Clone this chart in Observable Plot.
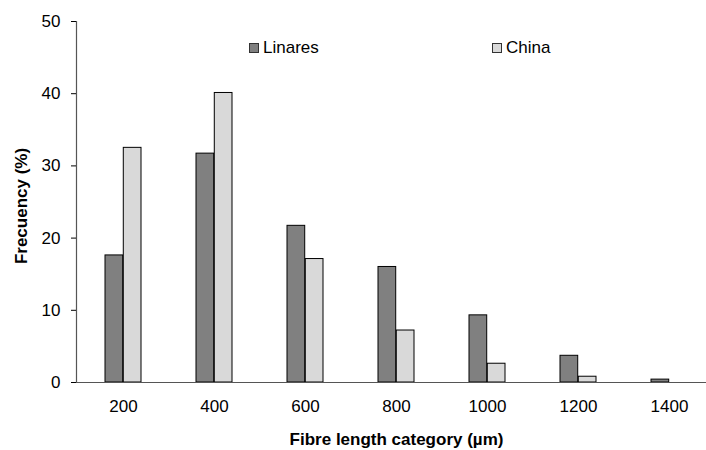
<!DOCTYPE html>
<html>
<head>
<meta charset="utf-8">
<script src="https://cdn.jsdelivr.net/npm/d3@7"></script>
<script src="https://cdn.jsdelivr.net/npm/@observablehq/plot@0.6"></script>
<style>
  html, body { margin: 0; padding: 0; background: white; overflow: hidden; }
  #wrap { position: relative; width: 706px; height: 450px; font-family: "Liberation Sans", Arial, sans-serif; }
  .legend { position: absolute; display: flex; align-items: center; font-size: 17px; color: #000; }
  .legend .sw { width: 8px; height: 8px; border: 1px solid #333; margin-right: 4px; }
</style>
</head>
<body>
<div id="wrap"></div>
<script>
// Data
const categories = ["200", "400", "600", "800", "1000", "1200", "1400"];
const linares = [17.6, 31.7, 21.7, 16.0, 9.3, 3.7, 0.4];
const china = [32.5, 40.1, 17.1, 7.2, 2.6, 0.8, 0];
const seriesNames = ["Linares", "China"];
const seriesColors = ["#808080", "#d9d9d9"];
const yTicks = [0, 10, 20, 30, 40, 50];

const rows = [];
categories.forEach((c, i) => {
  rows.push({cat: c, series: "Linares", value: linares[i]});
  rows.push({cat: c, series: "China", value: china[i]});
});

const W = 706, H = 450;
const mL = 76, mR = -10, mT = 21, mB = 68;
const padInner = 0.6;
const bw = (W - mL - mR) / categories.length * (1 - padInner);
const half = bw / 2;

const chart = Plot.plot({
  width: W,
  height: H,
  marginLeft: mL,
  marginRight: mR,
  marginTop: mT,
  marginBottom: mB,
  style: {fontFamily: "'Liberation Sans', Arial, sans-serif", fontSize: "17px", color: "#000", background: "white"},
  x: {type: "band", domain: categories, paddingInner: padInner, paddingOuter: padInner / 2},
  y: {domain: [0, 50]},
  color: {domain: seriesNames, range: seriesColors},
  marks: [
    Plot.barY(rows.filter(d => d.series === "Linares"), {x: "cat", y: "value", fill: "series", stroke: "#000", strokeWidth: 1, insetRight: half}),
    Plot.barY(rows.filter(d => d.series === "China"), {x: "cat", y: "value", fill: "series", stroke: "#000", strokeWidth: 1, insetLeft: half}),
    Plot.ruleY([0], {stroke: "#555", strokeWidth: 1.2}),
    Plot.frame({anchor: "left", stroke: "#555", strokeWidth: 1.2}),
    Plot.axisY({ticks: yTicks, tickSize: 5, tickPadding: 11, label: "Frecuency (%)", labelAnchor: "center", labelArrow: "none", labelOffset: 62, fontSize: 17}),
    Plot.axisX({tickSize: 0, tickPadding: 17, label: "Fibre length category (µm)", labelAnchor: "center", labelArrow: "none", labelOffset: 62, fontSize: 17})
  ]
});

// style axis titles
chart.querySelectorAll("g[aria-label='y-axis label'] text").forEach(t => { t.style.fontWeight = "bold"; t.style.fontSize = "17px"; t.setAttribute("transform", (t.getAttribute("transform") || "") + " translate(-4,0)"); });
chart.querySelectorAll("g[aria-label='x-axis label'] text").forEach(t => { t.style.fontWeight = "bold"; t.style.fontSize = "17px"; });

const wrap = document.getElementById("wrap");
wrap.appendChild(chart);

// Legend overlay
const legendPos = [[249, 38], [492, 38]];
seriesNames.forEach((name, i) => {
  const item = document.createElement("div");
  item.className = "legend";
  item.style.left = legendPos[i][0] + "px";
  item.style.top = legendPos[i][1] + "px";
  const sw = document.createElement("span");
  sw.className = "sw";
  sw.style.background = seriesColors[i];
  const lab = document.createElement("span");
  lab.textContent = name;
  item.appendChild(sw);
  item.appendChild(lab);
  wrap.appendChild(item);
});
</script>
</body>
</html>
